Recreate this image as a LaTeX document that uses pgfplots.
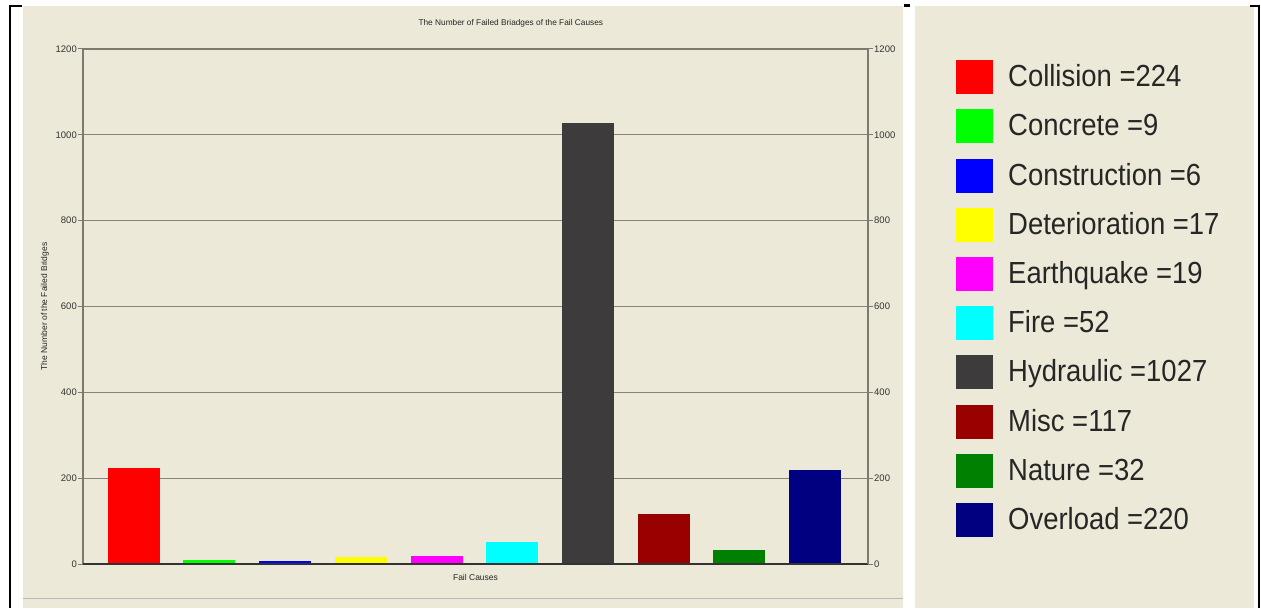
\documentclass[border=0pt]{standalone}
\usepackage{fontspec}
\setmainfont{Liberation Sans}
\newfontfamily\legendfont{Liberation Sans}[FakeStretch=0.9]
\usepackage{pgfplots}
\pgfplotsset{compat=1.18}
\definecolor{bg}{HTML}{ECE9D8}
\definecolor{gridc}{HTML}{86837A}
\definecolor{axc}{HTML}{7C796F}
\definecolor{cRed}{HTML}{FF0000}
\definecolor{cGreen}{HTML}{00FF00}
\definecolor{cBlue}{HTML}{0000FF}
\definecolor{cYellow}{HTML}{FFFF00}
\definecolor{cMag}{HTML}{FF00FF}
\definecolor{cCyan}{HTML}{00FFFF}
\definecolor{cDGray}{HTML}{3E3B3C}
\definecolor{cDRed}{HTML}{990000}
\definecolor{cDGreen}{HTML}{008000}
\definecolor{cNavy}{HTML}{000080}
\begin{document}
\begin{tikzpicture}
\begin{scope}[x=1bp,y=-1bp]
\fill[white] (0,0) rectangle (1261,608);
\fill[bg] (23,6) rectangle (903,608);
\fill[bg] (915,6) rectangle (1254,608);
\draw[gray!55, line width=1bp] (23,598.5) -- (903,598.5);
\draw[black, line width=2.5bp] (22,6) -- (10,6) -- (10,608);
\draw[black, line width=2.5bp] (1250,6) -- (1259,6) -- (1259,608);
\fill[black] (904,4) rectangle (910,7);
\end{scope}
\begin{axis}[
  at={(83bp,-564bp)}, anchor=south west,
  scale only axis, width=785bp, height=515bp,
  xmin=-0.67, xmax=9.7, ymin=0, ymax=1200,
  xtick=\empty,
  ytick={0,200,...,1200}, ytick pos=left,
  tick align=outside, major tick length=5bp,
  every tick/.style={axc, line width=1bp},
  axis line style={axc, line width=1.2bp},
  ymajorgrids, grid style={gridc, line width=1.2bp},
  /pgf/number format/assume math mode=true,
  /pgf/number format/1000 sep={},
  yticklabel style={font=\fontsize{9.5bp}{11bp}\selectfont, inner sep=1bp, text=black!80},
  title={The Number of Failed Briadges of the Fail Causes},
  title style={at={(axis description cs:0.545,1.0384)}, anchor=center, yshift=0pt, font=\fontsize{8.3bp}{10bp}\selectfont, text=black!85},
  xlabel={Fail Causes},
  xlabel style={at={(axis description cs:0.5,-0.027)}, anchor=center, font=\fontsize{8.5bp}{10bp}\selectfont, text=black!85},
  ylabel={The Number of the Failed Bridges},
  ylabel style={at={(axis description cs:-0.0485,0.5)}, anchor=center, font=\fontsize{8.5bp}{10bp}\selectfont, text=black!85},
  sq/.style={ybar, bar width=0.687, bar shift=0pt, draw=none, fill=#1,
    legend image code/.code={\fill[##1] (0bp,-15bp) rectangle (37bp,19bp);}},
  legend style={at={(1.1121,0.9786)}, anchor=north west, draw=none, fill=none,
    inner sep=0pt, row sep=15.2bp, column sep=15bp,
    font=\legendfont\fontsize{30.5bp}{36bp}\selectfont, text=black!85,
    nodes={inner sep=0pt, text height=22bp, text depth=7bp}},
  legend cell align=left,
]
\addplot[sq=cRed] coordinates {(0,224)};
\addplot[sq=cGreen] coordinates {(1,9)};
\addplot[sq=cBlue] coordinates {(2,6)};
\addplot[sq=cYellow] coordinates {(3,17)};
\addplot[sq=cMag] coordinates {(4,19)};
\addplot[sq=cCyan] coordinates {(5,52)};
\addplot[sq=cDGray] coordinates {(6,1027)};
\addplot[sq=cDRed] coordinates {(7,117)};
\addplot[sq=cDGreen] coordinates {(8,32)};
\addplot[sq=cNavy] coordinates {(9,220)};
\legend{Collision =224, Concrete =9, Construction =6, Deterioration =17, Earthquake =19, Fire =52, Hydraulic =1027, Misc =117, Nature =32, Overload =220}
\draw[black!80, line width=1.3bp] (rel axis cs:0,0) -- (rel axis cs:1,0);
\end{axis}
\begin{axis}[
  at={(83bp,-564bp)}, anchor=south west,
  scale only axis, width=785bp, height=515bp,
  xmin=-0.67, xmax=9.7, ymin=0, ymax=1200,
  axis x line=none, axis y line*=right,
  ytick={0,200,...,1200},
  tick align=outside, major tick length=5bp,
  every tick/.style={axc, line width=1bp},
  axis line style={axc, line width=1.2bp},
  /pgf/number format/assume math mode=true,
  /pgf/number format/1000 sep={},
  yticklabel style={font=\fontsize{9.5bp}{11bp}\selectfont, inner sep=1bp, text=black!80},
]
\addplot[draw=none] coordinates {(0,0)};
\end{axis}
\end{tikzpicture}
\end{document}
